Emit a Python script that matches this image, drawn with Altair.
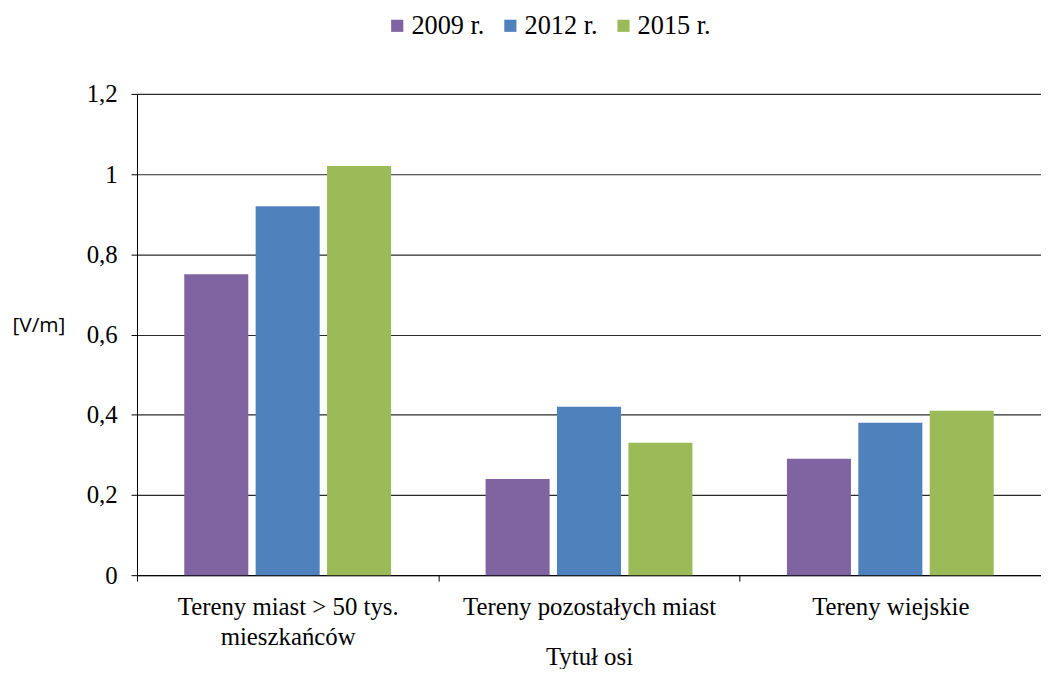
import altair as alt
import pandas as pd

categories = ["Tereny miast > 50 tys.\nmieszkańców", "Tereny pozostałych miast", "Tereny wiejskie"]
series = ["2009 r.", "2012 r.", "2015 r."]
v2009 = [0.75, 0.24, 0.29]
v2012 = [0.92, 0.42, 0.38]
v2015 = [1.02, 0.33, 0.41]
colors = ["#8064A2", "#4F81BD", "#9BBB59"]
y_ticks = [0, 0.2, 0.4, 0.6, 0.8, 1.0, 1.2]

rows = []
for s, vals in zip(series, [v2009, v2012, v2015]):
    for c, v in zip(categories, vals):
        rows.append({"category": c, "series": s, "value": v})
df = pd.DataFrame(rows)

serif = "Liberation Serif"

chart = alt.Chart(df).mark_bar().encode(
    x=alt.X("category:N", sort=categories,
            scale=alt.Scale(paddingInner=0, paddingOuter=0),
            axis=alt.Axis(title="Tytuł osi", labelAngle=0, tickBand="extent",
                          labelExpr="split(datum.label, '\\n')", labelLimit=0,
                          labelFont=serif, labelFontSize=25, labelColor="#000",
                          labelLineHeight=30, labelPadding=14,
                          tickSize=6, tickColor="#000", domainColor="#000",
                          titleFont=serif, titleFontSize=25, titleFontWeight="normal",
                          titleColor="#000", titleBaseline="middle", titleY=82,
                          grid=False)),
    xOffset=alt.XOffset("series:N", sort=series,
                        scale=alt.Scale(paddingInner=0.103, paddingOuter=0.662)),
    y=alt.Y("value:Q", scale=alt.Scale(domain=[0, 1.2], nice=False),
            axis=alt.Axis(title="[V/m]", values=y_ticks,
                          labelExpr="replace(format(datum.value, '~g'), '.', ',')",
                          labelFont=serif, labelFontSize=25, labelColor="#000",
                          labelPadding=14, tickSize=6, tickColor="#000",
                          domainColor="#000", grid=True, gridColor="#2a2a2a",
                          gridWidth=1.2,
                          titleAngle=0, titleFont="Open Sans", titleFontSize=21,
                          titleFontWeight="normal", titleColor="#000",
                          titleAlign="left", titleBaseline="middle",
                          titleX=-126, titleY=233)),
    color=alt.Color("series:N", sort=series,
                    scale=alt.Scale(domain=series, range=colors),
                    legend=alt.Legend(title=None, orient="none", legendX=249, legendY=-82,
                                      direction="horizontal", symbolType="square",
                                      symbolSize=150, symbolStrokeWidth=0,
                                      labelFont=serif, labelFontSize=26.5, labelColor="#000",
                                      labelOffset=1, columnPadding=12)),
).properties(
    width=911, height=485,
    autosize=alt.AutoSizeParams(type="none"),
    padding={"left": 130, "top": 84, "right": 0, "bottom": 92},
).configure_view(stroke=None)

chart.save("out.html", embed_options={"renderer": "svg", "actions": False})
